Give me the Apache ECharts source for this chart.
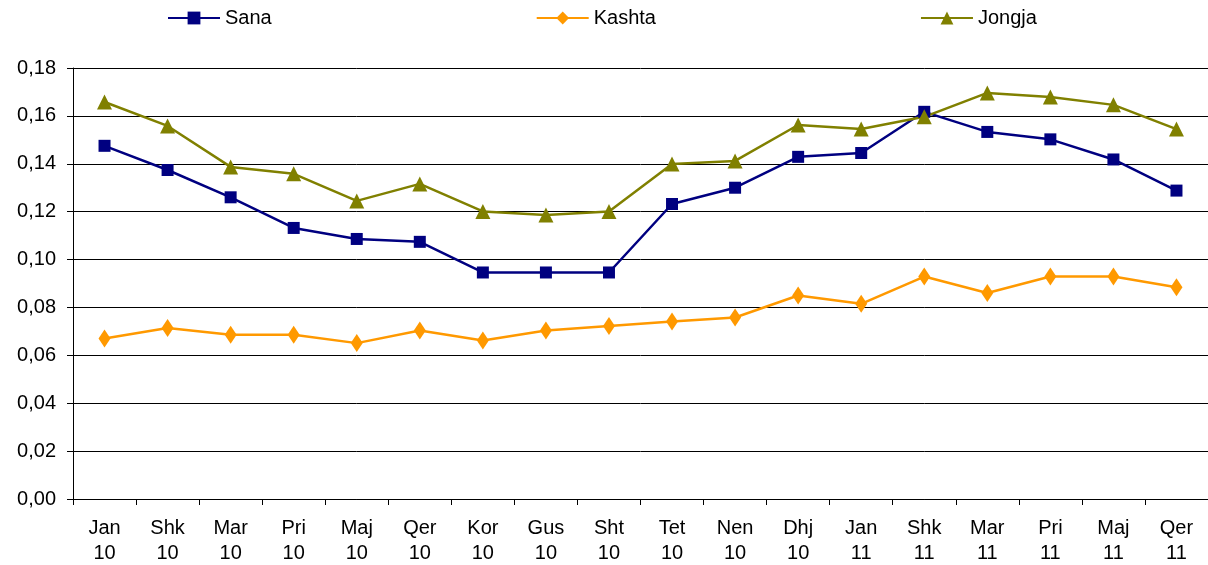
<!DOCTYPE html>
<html>
<head>
<meta charset="utf-8">
<script src="https://cdn.jsdelivr.net/npm/echarts@6/dist/echarts.min.js"></script>
<style>
html, body { margin: 0; padding: 0; background: #fff; }
#chart { width: 1208px; height: 565px; }
</style>
</head>
<body>
<div id="chart"></div>
<script>
var months = ['Jan\n10', 'Shk\n10', 'Mar\n10', 'Pri\n10', 'Maj\n10', 'Qer\n10', 'Kor\n10', 'Gus\n10', 'Sht\n10',
    'Tet\n10', 'Nen\n10', 'Dhj\n10', 'Jan\n11', 'Shk\n11', 'Mar\n11', 'Pri\n11', 'Maj\n11', 'Qer\n11'];
var sana = [0.1475, 0.1374, 0.1260, 0.1132, 0.1086, 0.1074, 0.0946, 0.0946, 0.0946,
    0.1232, 0.1300, 0.1429, 0.1445, 0.1617, 0.1533, 0.1502, 0.1418, 0.1288];
var kashta = [0.0670, 0.0714, 0.0686, 0.0686, 0.0651, 0.0704, 0.0662, 0.0704, 0.0723,
    0.0741, 0.0758, 0.0850, 0.0815, 0.0929, 0.0860, 0.0929, 0.0929, 0.0884];
var jongja = [0.1658, 0.1558, 0.1387, 0.1358, 0.1245, 0.1316, 0.1201, 0.1186, 0.1201,
    0.1399, 0.1412, 0.1562, 0.1545, 0.1596, 0.1696, 0.1679, 0.1646, 0.1545];
var yTicks = ['0,00', '0,02', '0,04', '0,06', '0,08', '0,10', '0,12', '0,14', '0,16', '0,18'];

var fontName = 'Liberation Sans';
var myChart = echarts.init(document.getElementById('chart'));

function makeSeries(name, data, color, symbol, size) {
    return {
        name: name,
        type: 'line',
        data: data,
        symbol: symbol,
        symbolSize: size,
        showAllSymbol: true,
        lineStyle: { color: color, width: 2.5 },
        itemStyle: { color: color },
        emphasis: { disabled: true }
    };
}

var option = {
    animation: false,
    backgroundColor: '#ffffff',
    textStyle: { fontFamily: fontName },
    legend: {
        top: 3,
        left: 162,
        itemGap: 264,
        itemWidth: 52,
        itemHeight: 16,
        textStyle: { fontFamily: fontName, fontSize: 20, color: '#000' },
        data: ['Sana', 'Kashta', 'Jongja']
    },
    grid: { left: 73, right: 0, top: 68, bottom: 66, containLabel: false, outerBoundsMode: 'none' },
    xAxis: {
        type: 'category',
        data: months,
        boundaryGap: true,
        axisLine: { lineStyle: { color: '#000', width: 1 } },
        axisTick: { show: true, length: 6, lineStyle: { color: '#000' } },
        axisLabel: {
            interval: 0,
            margin: 17,
            fontSize: 20,
            lineHeight: 25,
            color: '#000',
            fontFamily: fontName
        }
    },
    yAxis: {
        type: 'value',
        min: 0,
        max: 0.18,
        interval: 0.02,
        axisLine: { show: true, lineStyle: { color: '#000', width: 1 } },
        axisTick: { show: true, length: 6, lineStyle: { color: '#000' } },
        splitLine: { show: true, lineStyle: { color: '#000', width: 1 } },
        axisLabel: {
            margin: 17,
            fontSize: 20,
            color: '#000',
            fontFamily: fontName,
            formatter: function (v) {
                return yTicks[Math.round(v / 0.02)];
            }
        }
    },
    series: [
        makeSeries('Sana', sana, '#000080', 'rect', 12),
        makeSeries('Kashta', kashta, '#FF9900', 'diamond', [12, 18]),
        makeSeries('Jongja', jongja, '#808000', 'triangle', 15)
    ]
};
myChart.setOption(option);
</script>
</body>
</html>
